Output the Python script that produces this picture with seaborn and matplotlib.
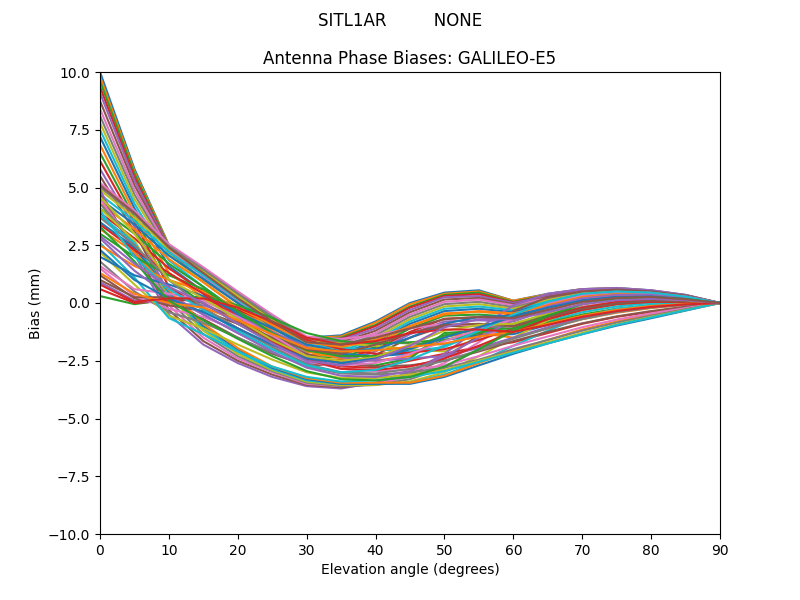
import numpy as np
import pandas as pd
import matplotlib
matplotlib.use("Agg")
import matplotlib.pyplot as plt
import seaborn as sns

elevation = [0, 5, 10, 15, 20, 25, 30, 35, 40, 45, 50, 55, 60, 65, 70, 75, 80, 85, 90]

steep_high = [
    [10.0, 5.8, 2.5, 1.5, 0.45, -0.6, -1.5, -1.4, -0.8, 0.0, 0.45, 0.55, 0.1, 0.4, 0.6, 0.65, 0.55, 0.35, 0.0],
    [9.8, 5.7, 2.5, 1.45, 0.4, -0.65, -1.5, -1.45, -0.85, -0.05, 0.4, 0.5, 0.1, 0.38, 0.6, 0.64, 0.54, 0.34, 0.0],
    [9.6, 5.6, 2.45, 1.4, 0.35, -0.7, -1.55, -1.5, -0.95, -0.15, 0.35, 0.45, 0.05, 0.35, 0.58, 0.62, 0.52, 0.33, 0.0],
    [9.35, 5.45, 2.4, 1.35, 0.3, -0.75, -1.6, -1.55, -1.0, -0.2, 0.3, 0.38, 0.02, 0.32, 0.56, 0.61, 0.51, 0.32, 0.0],
    [9.1, 5.3, 2.4, 1.3, 0.25, -0.8, -1.65, -1.6, -1.1, -0.3, 0.25, 0.3, 0.0, 0.3, 0.55, 0.6, 0.5, 0.3, 0.0],
    [8.75, 5.1, 2.35, 1.2, 0.15, -0.85, -1.7, -1.7, -1.2, -0.4, 0.15, 0.22, -0.05, 0.26, 0.52, 0.57, 0.48, 0.29, 0.0],
    [8.4, 4.9, 2.3, 1.15, 0.1, -0.9, -1.75, -1.75, -1.3, -0.5, 0.05, 0.15, -0.1, 0.22, 0.5, 0.55, 0.47, 0.28, 0.0],
    [8.1, 4.7, 2.2, 1.0, 0.0, -1.0, -1.85, -1.85, -1.4, -0.6, -0.05, 0.05, -0.18, 0.17, 0.46, 0.52, 0.45, 0.27, 0.0],
    [7.8, 4.5, 2.1, 0.9, -0.15, -1.1, -1.9, -1.95, -1.5, -0.7, -0.15, -0.05, -0.25, 0.12, 0.42, 0.5, 0.43, 0.26, 0.0],
    [7.5, 4.3, 1.85, 0.7, -0.35, -1.25, -2.0, -2.05, -1.6, -0.8, -0.25, -0.15, -0.32, 0.06, 0.38, 0.46, 0.4, 0.24, 0.0],
    [7.2, 4.1, 1.6, 0.5, -0.5, -1.4, -2.1, -2.15, -1.7, -0.9, -0.35, -0.25, -0.4, 0.0, 0.33, 0.42, 0.38, 0.23, 0.0],
    [6.85, 3.9, 1.3, 0.25, -0.7, -1.55, -2.25, -2.25, -1.8, -1.0, -0.45, -0.38, -0.5, -0.08, 0.28, 0.38, 0.35, 0.21, 0.0],
    [6.5, 3.7, 1.0, 0.0, -0.9, -1.7, -2.35, -2.35, -1.9, -1.1, -0.55, -0.5, -0.6, -0.15, 0.22, 0.35, 0.33, 0.2, 0.0],
    [6.15, 3.5, 0.7, -0.25, -1.1, -1.85, -2.5, -2.45, -2.0, -1.25, -0.68, -0.62, -0.7, -0.22, 0.16, 0.31, 0.3, 0.18, 0.0],
    [5.8, 3.3, 0.4, -0.5, -1.3, -2.0, -2.6, -2.55, -2.1, -1.35, -0.8, -0.75, -0.8, -0.3, 0.1, 0.27, 0.28, 0.17, 0.0],
    [5.5, 3.1, 0.2, -0.7, -1.5, -2.2, -2.7, -2.65, -2.25, -1.5, -1.0, -1.0, -1.0, -0.5, -0.05, 0.18, 0.22, 0.14, 0.0],
]

moderate_start = [
    [5.2, 4.0, 2.55, 1.55, 0.5, -0.5, -1.45, -1.55, -1.4, -1.1, -0.9, -1.0, -1.05, -0.6, -0.15, 0.05, 0.15, 0.1, 0.0],
    [5.0, 3.85, 2.45, 1.45, 0.4, -0.6, -1.55, -1.7, -1.7, -1.75, -1.8, -1.4, -0.6, -0.1, 0.25, 0.4, 0.38, 0.24, 0.0],
    [4.9, 3.7, 2.35, 1.35, 0.3, -0.75, -1.65, -1.75, -1.85, -2.0, -2.1, -1.5, -0.75, -0.2, 0.2, 0.35, 0.35, 0.22, 0.0],
    [4.7, 3.55, 2.2, 1.2, 0.15, -0.9, -1.8, -1.95, -2.0, -2.1, -1.9, -1.3, -1.2, -0.8, -0.4, -0.15, 0.0, 0.03, 0.0],
    [4.5, 3.4, 2.05, 1.05, 0.0, -1.05, -1.95, -2.2, -2.3, -2.2, -1.6, -1.4, -1.35, -0.95, -0.55, -0.3, -0.12, -0.03, 0.0],
    [4.3, 3.2, 1.9, 0.9, -0.2, -1.2, -2.1, -2.4, -2.5, -2.3, -1.45, -1.3, -1.5, -1.1, -0.7, -0.42, -0.22, -0.08, 0.0],
    [4.1, 3.0, 1.7, 0.7, -0.4, -1.4, -2.25, -2.6, -2.7, -2.4, -1.3, -1.2, -1.2, -0.85, -0.5, -0.25, -0.1, -0.02, 0.0],
    [3.9, 2.8, 1.5, 0.5, -0.6, -1.6, -2.4, -2.75, -2.8, -2.5, -2.2, -1.9, -1.7, -1.3, -0.9, -0.6, -0.38, -0.18, 0.0],
]

plunge = [
    [4.9, 2.1, -0.5, -1.8, -2.6, -3.2, -3.6, -3.7, -3.45, -3.0, -2.2, -1.1, -0.1, 0.4, 0.6, 0.65, 0.55, 0.35, 0.0],
    [4.7, 2.3, -0.3, -1.65, -2.5, -3.1, -3.55, -3.65, -3.5, -3.1, -2.4, -1.4, -0.35, 0.25, 0.5, 0.58, 0.5, 0.32, 0.0],
    [4.5, 2.5, -0.1, -1.5, -2.4, -3.0, -3.5, -3.6, -3.5, -3.2, -2.6, -1.7, -0.7, 0.0, 0.35, 0.48, 0.44, 0.28, 0.0],
    [4.3, 2.6, 0.1, -1.35, -2.3, -2.95, -3.45, -3.6, -3.55, -3.3, -2.8, -2.0, -1.1, -0.35, 0.1, 0.3, 0.32, 0.22, 0.0],
    [4.1, 2.7, 0.3, -1.2, -2.2, -2.9, -3.4, -3.55, -3.55, -3.4, -3.0, -2.3, -1.5, -0.75, -0.2, 0.05, 0.15, 0.1, 0.0],
    [3.8, 2.6, 0.4, -1.1, -2.1, -2.85, -3.35, -3.5, -3.5, -3.45, -3.1, -2.55, -1.85, -1.2, -0.6, -0.25, -0.08, 0.0, 0.0],
    [3.5, 2.4, 0.5, -1.0, -2.0, -2.8, -3.3, -3.5, -3.5, -3.5, -3.2, -2.7, -2.2, -1.75, -1.35, -0.98, -0.66, -0.33, 0.0],
    [3.2, 2.2, 0.55, -0.9, -1.95, -2.75, -3.25, -3.45, -3.45, -3.45, -3.15, -2.6, -2.05, -1.6, -1.15, -0.8, -0.5, -0.25, 0.0],
]

low_start = [
    [0.3, -0.05, 0.15, 0.3, -0.1, -0.65, -1.3, -1.65, -1.75, -1.7, -1.6, -1.3, -0.9, -0.5, -0.2, 0.0, 0.08, 0.05, 0.0],
    [0.6, 0.0, 0.1, 0.15, -0.3, -0.9, -1.6, -2.0, -2.2, -2.15, -2.0, -1.6, -1.1, -0.6, -0.2, 0.05, 0.15, 0.1, 0.0],
    [0.9, 0.1, 0.0, -0.1, -0.6, -1.25, -1.9, -2.35, -2.5, -2.4, -2.3, -1.95, -1.5, -1.05, -0.65, -0.35, -0.15, -0.05, 0.0],
    [1.2, 0.2, -0.1, -0.35, -0.9, -1.55, -2.2, -2.6, -2.75, -2.7, -2.5, -2.1, -1.65, -1.25, -0.88, -0.58, -0.35, -0.16, 0.0],
    [1.5, 0.3, -0.25, -0.6, -1.2, -1.85, -2.5, -2.85, -2.95, -2.9, -2.7, -2.3, -1.85, -1.45, -1.05, -0.72, -0.45, -0.22, 0.0],
    [1.8, 0.5, -0.4, -0.85, -1.5, -2.15, -2.75, -3.05, -3.1, -3.0, -2.8, -2.45, -2.0, -1.6, -1.2, -0.85, -0.55, -0.27, 0.0],
    [2.2, 0.8, -0.55, -1.1, -1.8, -2.45, -3.0, -3.25, -3.25, -3.1, -2.9, -2.5, -2.1, -1.7, -1.3, -0.93, -0.6, -0.3, 0.0],
    [2.6, 1.1, -0.65, -1.35, -2.1, -2.75, -3.2, -3.4, -3.35, -3.2, -2.95, -2.55, -2.15, -1.75, -1.35, -0.95, -0.63, -0.31, 0.0],
]

mid_start = [
    [2.0, 1.2, 0.8, 0.3, -0.4, -1.1, -1.8, -2.1, -2.0, -1.5, -0.9, -0.6, -0.55, -0.2, 0.15, 0.3, 0.3, 0.18, 0.0],
    [2.5, 1.6, 1.0, 0.5, -0.2, -0.95, -1.7, -1.9, -1.6, -1.0, -0.5, -0.35, -0.45, -0.1, 0.25, 0.38, 0.34, 0.2, 0.0],
    [3.0, 2.0, 1.2, 0.6, -0.35, -1.3, -2.05, -2.3, -2.3, -1.95, -1.4, -1.15, -1.1, -0.7, -0.3, -0.05, 0.08, 0.06, 0.0],
    [3.4, 2.3, 1.3, 0.4, -0.7, -1.65, -2.45, -2.85, -2.9, -2.75, -2.4, -1.85, -1.25, -0.7, -0.3, -0.05, 0.05, 0.05, 0.0],
    [2.8, 1.4, 0.3, -0.5, -1.3, -2.1, -2.8, -3.15, -3.2, -2.95, -2.3, -1.5, -0.75, -0.15, 0.2, 0.35, 0.35, 0.22, 0.0],
    [1.0, 0.25, 0.25, 0.0, -0.8, -1.5, -2.0, -2.2, -1.8, -1.3, -0.95, -0.9, -1.0, -0.6, -0.25, -0.02, 0.1, 0.07, 0.0],
    [1.6, 0.6, 0.4, 0.1, -0.6, -1.4, -2.3, -2.7, -2.6, -2.2, -1.65, -1.15, -0.7, -0.3, 0.05, 0.22, 0.25, 0.15, 0.0],
    [3.7, 2.5, 1.0, -0.2, -1.1, -1.9, -2.65, -3.0, -3.05, -2.85, -2.5, -2.05, -1.55, -1.1, -0.7, -0.4, -0.2, -0.08, 0.0],
]

extra_mid = [
    [4.6, 3.0, 1.0, 0.2, -0.7, -1.6, -2.3, -2.5, -2.35, -1.8, -1.2, -0.95, -0.9, -0.45, -0.05, 0.15, 0.2, 0.13, 0.0],
    [4.0, 2.0, 0.6, -0.3, -1.2, -2.0, -2.7, -3.0, -2.9, -2.45, -1.85, -1.2, -0.5, 0.05, 0.4, 0.5, 0.45, 0.28, 0.0],
    [2.3, 1.0, 0.2, -0.4, -1.1, -1.8, -2.4, -2.6, -2.4, -2.0, -1.5, -1.05, -0.6, -0.2, 0.1, 0.25, 0.28, 0.17, 0.0],
    [1.3, 0.4, 0.0, -0.2, -0.75, -1.35, -1.95, -2.1, -2.05, -1.9, -1.75, -1.45, -1.25, -0.9, -0.55, -0.3, -0.13, -0.04, 0.0],
    [3.3, 1.8, 0.1, -0.75, -1.55, -2.3, -2.95, -3.3, -3.35, -3.2, -2.75, -2.0, -1.2, -0.55, -0.05, 0.2, 0.25, 0.17, 0.0],
    [0.8, 0.05, 0.2, 0.2, -0.2, -0.8, -1.5, -1.8, -1.65, -1.3, -1.15, -1.15, -1.25, -0.95, -0.6, -0.35, -0.17, -0.06, 0.0],
    [2.9, 1.7, 0.7, 0.0, -0.9, -1.75, -2.5, -2.7, -2.45, -1.85, -1.05, -0.7, -0.7, -0.4, -0.05, 0.12, 0.18, 0.12, 0.0],
    [5.1, 3.9, 2.4, 1.3, 0.2, -0.8, -1.7, -1.8, -1.5, -1.1, -0.7, -0.6, -0.65, -0.3, 0.05, 0.22, 0.26, 0.16, 0.0],
]

groups = [steep_high, moderate_start, plunge, low_start, mid_start, extra_mid]
curves = [c for g in groups for c in g]

rows = []
for k, vals in enumerate(curves):
    for e, v in zip(elevation, vals):
        rows.append({"curve": k, "elevation": e, "bias": v})
df = pd.DataFrame(rows)

tab10 = plt.rcParams["axes.prop_cycle"].by_key()["color"]
palette = [tab10[k % len(tab10)] for k in range(len(curves))]

fig, ax = plt.subplots(figsize=(8, 6), dpi=100)
fig.subplots_adjust(left=0.125, right=0.9, top=0.88, bottom=0.11)
sns.lineplot(data=df, x="elevation", y="bias", hue="curve", palette=palette,
             legend=False, ax=ax, linewidth=1.5, estimator=None, sort=False)

ax.set_xlim(0, 90)
ax.set_ylim(-10, 10)
ax.set_yticks(np.arange(-10, 10.1, 2.5))
ax.set_xticks(np.arange(0, 91, 10))
ax.set_xlabel("Elevation angle (degrees)")
ax.set_ylabel("Bias (mm)")
ax.set_title("Antenna Phase Biases: GALILEO-E5")
fig.suptitle("SITL1AR         NONE")

fig.savefig("out.png", dpi=100)
